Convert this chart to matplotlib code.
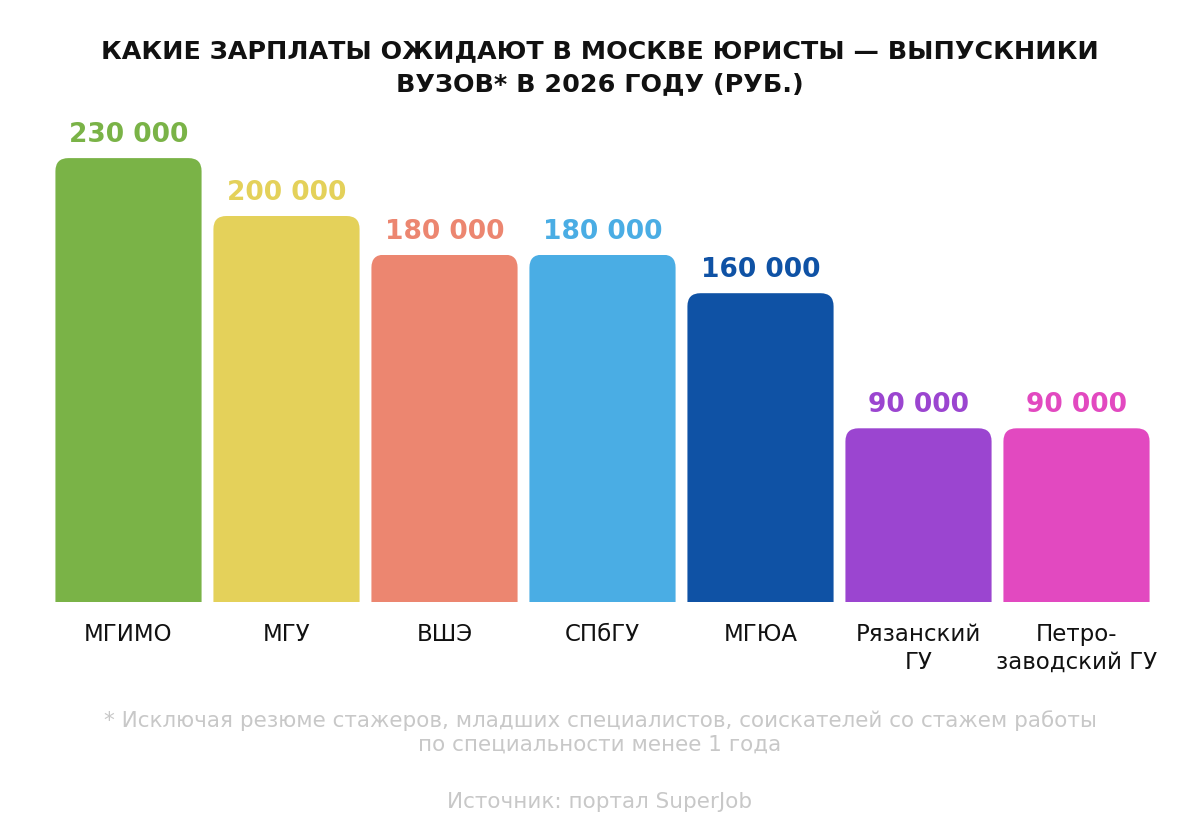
import matplotlib.pyplot as plt
from matplotlib.patches import FancyBboxPatch

# Data
universities = ['МГИМО', 'МГУ', 'ВШЭ', 'СПбГУ', 'МГЮА', 'Рязанский\nГУ', 'Петро-\nзаводский ГУ']
salaries = [230000, 200000, 180000, 180000, 160000, 90000, 90000]
colors = ['#7ab347', '#e4d15a', '#ec8670', '#4aade4', '#0f52a5', '#9b45d0', '#e249c0']

title = 'КАКИЕ ЗАРПЛАТЫ ОЖИДАЮТ В МОСКВЕ ЮРИСТЫ — ВЫПУСКНИКИ\nВУЗОВ* В 2026 ГОДУ (РУБ.)'
footnote = '* Исключая резюме стажеров, младших специалистов, соискателей со стажем работы\nпо специальности менее 1 года'
source = 'Источник: портал SuperJob'

plt.rcParams['font.family'] = ['DejaVu Sans']

W, H = 1200, 837
fig = plt.figure(figsize=(W / 100, H / 100), dpi=100)
ax = fig.add_axes([0, 0, 1, 1])

# pixel geometry of the reference
pitch = 158.0          # px between bar centers
x0 = 128.5             # px center of first bar
base = 603.0           # px baseline
ppk = 1.93 / 1000      # px per rouble

ax.set_xlim(-x0 / pitch, (W - x0) / pitch)
ax.set_ylim(-(H - base) / ppk, base / ppk)
ax.axis('off')

width = 0.925
bars = ax.bar(range(len(salaries)), salaries, width=width, color='none')

# rounded top corners: rounded box extending below the baseline, clipped to the bar
radius_px = 13
aspect = (1 / ppk) * pitch
for bar, c in zip(bars, colors):
    x, w, h = bar.get_x(), bar.get_width(), bar.get_height()
    r = radius_px / pitch
    extra = radius_px * 2 / ppk
    p = FancyBboxPatch((x, -extra), w, h + extra,
                       boxstyle=f'round,pad=0,rounding_size={r}',
                       mutation_aspect=aspect, facecolor=c, edgecolor='none')
    ax.add_patch(p)
    p.set_clip_path(bar)

for i, (v, c) in enumerate(zip(salaries, colors)):
    ax.text(i, v + 17 / ppk, f'{v:,}'.replace(',', ' '), ha='center', va='baseline',
            fontsize=19, fontweight='bold', color=c)

for i, name in enumerate(universities):
    ax.text(i, -(623 - base) / ppk, name, ha='center', va='top', fontsize=16.5,
            color='#111111', linespacing=1.28)

fig.text(0.5, 1 - 67.5 / H, title, ha='center', va='center', fontsize=18.3,
         fontweight='bold', color='#111111', linespacing=1.5)
fig.text(0.5, 1 - 732.5 / H, footnote, ha='center', va='center', fontsize=15.5,
         color='#c8c8c8', linespacing=1.22)
fig.text(0.5, 1 - 802 / H, source, ha='center', va='center', fontsize=15.5,
         color='#c8c8c8')

fig.savefig('out.png', dpi=100, facecolor='white')
